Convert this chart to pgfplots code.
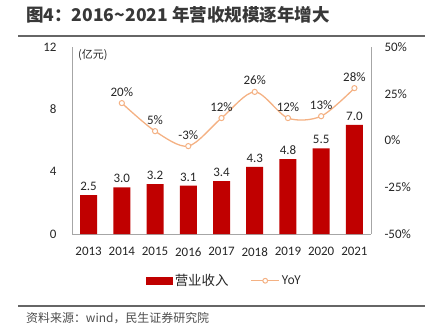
\documentclass[border=0pt]{standalone}
\usepackage{pgfplots}
\pgfplotsset{compat=1.18}
\usepackage{fontspec}
\setmainfont{Carlito}
\newfontfamily\cjk{Noto Sans CJK SC}
\definecolor{barred}{HTML}{C00000}
\definecolor{yoy}{HTML}{F4B183}
\definecolor{axgray}{HTML}{A6A6A6}
\definecolor{txt}{HTML}{262626}
\pgfplotsset{yoylegend/.style={legend image code/.code={\draw[mark repeat=2,mark phase=2,mark size=2.4bp,##1] plot coordinates {(0bp,0bp) (14bp,0bp) (28bp,0bp)};}}}
\begin{document}
\begin{tikzpicture}[x=1bp,y=1bp]
\path[use as bounding box] (0,0) rectangle (440,332);
\node[anchor=west, font=\cjk\bfseries\fontsize{17.6}{19}\selectfont, text=black!78, inner sep=0] at (26,317) {图4：2016\textasciitilde2021 年营收规模逐年增大};
\draw[black!60, line width=1.3] (18,296) -- (425,296);
\draw[black!60, line width=1.3] (18,26) -- (425,26);
\node[anchor=west, font=\cjk\fontsize{12}{14}\selectfont, text=black!70, inner sep=0] at (26,14) {资料来源：wind，民生证券研究院};
\begin{axis}[at={(72bp,98bp)}, anchor=south west, scale only axis, width=299bp, height=187bp,
  xmin=-0.5, xmax=8.5, ymin=0, ymax=12, ytick={0,4,8,12},
  xtick={0,...,8}, xticklabels={2013,2014,2015,2016,2017,2018,2019,2020,2021},
  axis x line*=bottom, axis y line*=left,
  axis line style={axgray, line width=0.9},
  major tick length=0pt,
  tick label style={font=\fontsize{13}{15}\selectfont, text=txt},
  yticklabel style={xshift=-12bp},
  xticklabel style={yshift=-10bp},
  /pgf/number format/assume math mode=true,
  clip=false]
\addplot[ybar, bar width=17bp, fill=barred, draw=none,
  /pgf/number format/fixed, /pgf/number format/fixed zerofill, /pgf/number format/precision=1,
  nodes near coords,
  nodes near coords style={font=\fontsize{13}{15}\selectfont, text=txt, yshift=1bp}]
  table {
x y
0 2.5
1 3.0
2 3.2
3 3.1
4 3.4
5 4.3
6 4.8
7 5.5
8 7.0
};
\node[anchor=north west, font=\cjk\fontsize{11}{13}\selectfont, text=txt, inner sep=0] at (rel axis cs:0.02,0.99) {(亿元)};
\end{axis}
\begin{axis}[at={(72bp,98bp)}, anchor=south west, scale only axis, width=299bp, height=187bp,
  xmin=-0.5, xmax=8.5, ymin=-50, ymax=50, ytick={-50,-25,0,25,50},
  yticklabel={\pgfmathprintnumber{\tick}\%},
  axis y line*=right, axis x line=none,
  axis line style={axgray, line width=0.9},
  major tick length=0pt,
  tick label style={font=\fontsize{13}{15}\selectfont, text=txt},
  yticklabel style={xshift=10bp},
  /pgf/number format/assume math mode=true,
  legend style={at={(0.51,-0.25)}, anchor=center, draw=none, fill=none,
    legend columns=2, font=\cjk\fontsize{13.5}{15}\selectfont, text=txt,
    /tikz/every even column/.append style={column sep=20bp}},
  clip=false]
\addlegendimage{legend image code/.code={\fill[barred] (0bp,-3.5bp) rectangle (26bp,4bp);}}
\addlegendentry{营业收入}
\addplot[yoy, line width=1.3, smooth, mark=*, mark size=2.6bp,
  mark options={fill=white, draw=yoy, line width=1},
  nodes near coords, point meta=explicit symbolic,
  nodes near coords style={font=\fontsize{13}{15}\selectfont, text=txt, yshift=3bp},
  yoylegend]
  table[meta=lab] {
x y lab
1 20 20\%
2 5 5\%
3 -3 -3\%
4 12 12\%
5 26 26\%
6 12 12\%
7 13 13\%
8 28 28\%
};
\addlegendentry{\fontsize{12}{14}\selectfont YoY}
\end{axis}
\end{tikzpicture}
\end{document}
